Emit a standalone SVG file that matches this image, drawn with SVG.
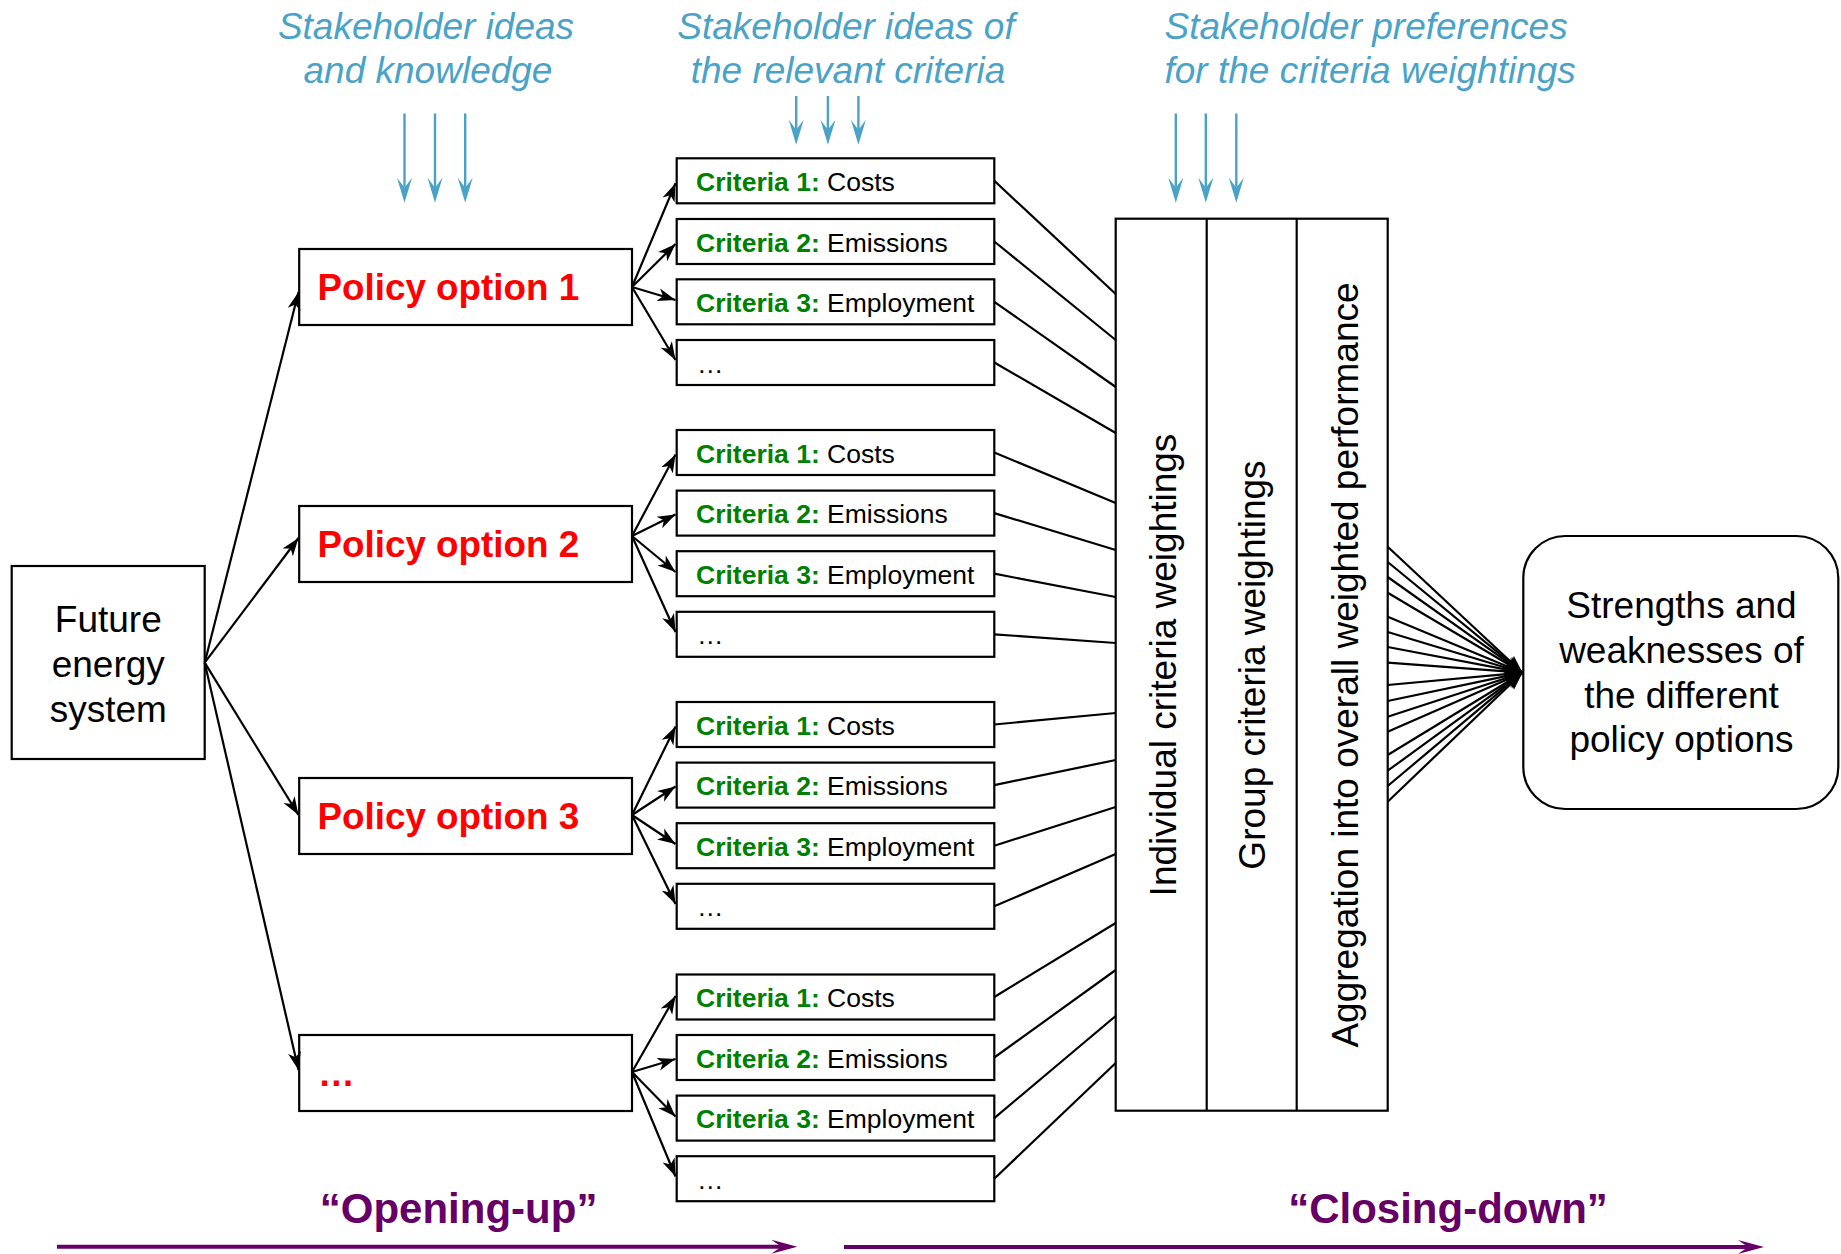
<svg xmlns="http://www.w3.org/2000/svg" width="1841" height="1254" viewBox="0 0 1841 1254">
<style>
text{font-family:"Liberation Sans",Arial,sans-serif}
.box{fill:#fff;stroke:#000;stroke-width:2.2}
.ln{stroke:#000;stroke-width:2.2;fill:none}
.arr{stroke:#000;stroke-width:2.2;fill:none;marker-end:url(#ab)}
.blue{stroke:#4AA3C7;stroke-width:2.4;fill:none;marker-end:url(#abl)}
.pur{stroke:#660066;stroke-width:4;fill:none;marker-end:url(#apu)}
.st{font-style:italic;font-size:37px;fill:#4AA3C7}
.cr{font-size:26.5px;fill:#000}
.g{font-weight:bold;fill:#008000}
.po{font-size:36.8px;font-weight:bold;fill:#FF0000}
.big{font-size:37px;fill:#000}
.ph{font-size:42px;font-weight:bold;fill:#660066}
</style>
<defs>
<marker id="ab" markerUnits="userSpaceOnUse" markerWidth="20" markerHeight="14" refX="18" refY="7" orient="auto"><path d="M0,0.5 L18,7 L0,13.5 L5,7 z" fill="#000"/></marker>
<marker id="abl" markerUnits="userSpaceOnUse" markerWidth="26" markerHeight="16" refX="10" refY="7.5" orient="auto"><path d="M0,0 L25,7.5 L0,15 L10,7.5 z" fill="#4AA3C7"/></marker>
<marker id="apu" markerUnits="userSpaceOnUse" markerWidth="27" markerHeight="15" refX="10" refY="7" orient="auto"><path d="M0,0 L26,7 L0,14 L10,7 z" fill="#660066"/></marker>
</defs>
<rect width="1841" height="1254" fill="#fff"/>

<g id="stakeholder-labels">
<text class="st" text-anchor="middle" x="426" y="38.5">Stakeholder ideas</text>
<text class="st" text-anchor="middle" x="428" y="82.5">and knowledge</text>
<text class="st" text-anchor="middle" x="846" y="38.5">Stakeholder ideas of</text>
<text class="st" text-anchor="middle" x="848" y="82.5">the relevant criteria</text>
<text class="st" x="1164.5" y="38.5">Stakeholder preferences</text>
<text class="st" x="1164.5" y="82.5">for the criteria weightings</text>
</g>

<g id="future"><rect class="box" x="11.7" y="566" width="193" height="193"/>
<text class="big" text-anchor="middle" x="108.3" y="631.7">Future</text>
<text class="big" text-anchor="middle" x="108.3" y="676.7">energy</text>
<text class="big" text-anchor="middle" x="108.3" y="721.7">system</text></g>

<g id="policy1"><rect class="box" x="299.2" y="249" width="332.8" height="76"/><text class="po" x="317.5" y="300">Policy option 1</text></g>
<g id="policy2"><rect class="box" x="299.2" y="506" width="332.8" height="76"/><text class="po" x="317.5" y="557">Policy option 2</text></g>
<g id="policy3"><rect class="box" x="299.2" y="778" width="332.8" height="76"/><text class="po" x="317.5" y="829">Policy option 3</text></g>
<g id="policy4"><rect class="box" x="299.2" y="1035" width="332.8" height="76"/><text class="po" x="318" y="1086">…</text></g>

<g id="criteria-g1">
<rect class="box" x="676.7" y="158.3" width="317.6" height="45"/><text class="cr" x="696" y="190.8"><tspan class="g">Criteria 1:</tspan> Costs</text>
<rect class="box" x="676.7" y="219" width="317.6" height="45"/><text class="cr" x="696" y="251.5"><tspan class="g">Criteria 2:</tspan> Emissions</text>
<rect class="box" x="676.7" y="279.3" width="317.6" height="45"/><text class="cr" x="696" y="311.8"><tspan class="g">Criteria 3:</tspan> Employment</text>
<rect class="box" x="676.7" y="340" width="317.6" height="45"/><text class="cr" x="697" y="372.5">…</text>
</g>
<g id="criteria-g2">
<rect class="box" x="676.7" y="430" width="317.6" height="45"/><text class="cr" x="696" y="462.5"><tspan class="g">Criteria 1:</tspan> Costs</text>
<rect class="box" x="676.7" y="490.6" width="317.6" height="45"/><text class="cr" x="696" y="523.1"><tspan class="g">Criteria 2:</tspan> Emissions</text>
<rect class="box" x="676.7" y="551.2" width="317.6" height="45"/><text class="cr" x="696" y="583.7"><tspan class="g">Criteria 3:</tspan> Employment</text>
<rect class="box" x="676.7" y="611.8" width="317.6" height="45"/><text class="cr" x="697" y="644.3">…</text>
</g>
<g id="criteria-g3">
<rect class="box" x="676.7" y="702" width="317.6" height="45"/><text class="cr" x="696" y="734.5"><tspan class="g">Criteria 1:</tspan> Costs</text>
<rect class="box" x="676.7" y="762.6" width="317.6" height="45"/><text class="cr" x="696" y="795.1"><tspan class="g">Criteria 2:</tspan> Emissions</text>
<rect class="box" x="676.7" y="823.2" width="317.6" height="45"/><text class="cr" x="696" y="855.7"><tspan class="g">Criteria 3:</tspan> Employment</text>
<rect class="box" x="676.7" y="883.8" width="317.6" height="45"/><text class="cr" x="697" y="916.3">…</text>
</g>
<g id="criteria-g4">
<rect class="box" x="676.7" y="974.5" width="317.6" height="45"/><text class="cr" x="696" y="1007"><tspan class="g">Criteria 1:</tspan> Costs</text>
<rect class="box" x="676.7" y="1035" width="317.6" height="45"/><text class="cr" x="696" y="1067.5"><tspan class="g">Criteria 2:</tspan> Emissions</text>
<rect class="box" x="676.7" y="1095.6" width="317.6" height="45"/><text class="cr" x="696" y="1128.1"><tspan class="g">Criteria 3:</tspan> Employment</text>
<rect class="box" x="676.7" y="1156.2" width="317.6" height="45"/><text class="cr" x="697" y="1188.7">…</text>
</g>

<g id="weighting-columns">
<rect class="box" x="1115.7" y="218.7" width="272" height="892"/>
<line class="ln" x1="1206.7" y1="218.7" x2="1206.7" y2="1110.7"/>
<line class="ln" x1="1296.7" y1="218.7" x2="1296.7" y2="1110.7"/>
<text class="big" text-anchor="middle" transform="translate(1175.5,665) rotate(-90)">Individual criteria weightings</text>
<text class="big" text-anchor="middle" transform="translate(1265,665) rotate(-90)">Group criteria weightings</text>
<text class="big" text-anchor="middle" transform="translate(1357.5,665) rotate(-90)">Aggregation into overall weighted performance</text>
</g>

<g id="result"><rect class="box" x="1523.3" y="536" width="315" height="273" rx="42" ry="42"/>
<text class="big" text-anchor="middle" x="1681.5" y="618.3">Strengths and</text>
<text class="big" text-anchor="middle" x="1681.5" y="663">weaknesses of</text>
<text class="big" text-anchor="middle" x="1681.5" y="707.7">the different</text>
<text class="big" text-anchor="middle" x="1681.5" y="752.4">policy options</text></g>

<g id="phase-labels">
<text class="ph" text-anchor="middle" x="458.6" y="1222.5">“Opening-up”</text>
<text class="ph" text-anchor="middle" x="1448" y="1222.5">“Closing-down”</text>
</g>

<g id="connectors">
<line class="blue" x1="404.5" y1="113.5" x2="404.5" y2="187.7"/>
<line class="blue" x1="435" y1="113.5" x2="435" y2="187.7"/>
<line class="blue" x1="465.2" y1="113.5" x2="465.2" y2="187.7"/>
<line class="blue" x1="796.2" y1="96" x2="796.2" y2="129.8"/>
<line class="blue" x1="827.9" y1="96" x2="827.9" y2="129.8"/>
<line class="blue" x1="858.4" y1="96" x2="858.4" y2="129.8"/>
<line class="blue" x1="1175.8" y1="113.5" x2="1175.8" y2="187.7"/>
<line class="blue" x1="1205.8" y1="113.5" x2="1205.8" y2="187.7"/>
<line class="blue" x1="1236.3" y1="113.5" x2="1236.3" y2="187.7"/>

<line class="arr" x1="204.7" y1="662.7" x2="298.5" y2="292"/>
<line class="arr" x1="204.7" y1="662.7" x2="298.5" y2="538"/>
<line class="arr" x1="204.7" y1="662.7" x2="298.5" y2="815"/>
<line class="arr" x1="204.7" y1="662.7" x2="298.5" y2="1070"/>

<line class="arr" x1="632" y1="287" x2="675.5" y2="183.3"/>
<line class="arr" x1="632" y1="287" x2="675.5" y2="244"/>
<line class="arr" x1="632" y1="287" x2="675.5" y2="300"/>
<line class="arr" x1="632" y1="287" x2="675.5" y2="360"/>
<line class="arr" x1="632" y1="536" x2="675.5" y2="454.5"/>
<line class="arr" x1="632" y1="536" x2="675.5" y2="514.5"/>
<line class="arr" x1="632" y1="536" x2="675.5" y2="572"/>
<line class="arr" x1="632" y1="536" x2="675.5" y2="632"/>
<line class="arr" x1="632" y1="815" x2="675.5" y2="726.5"/>
<line class="arr" x1="632" y1="815" x2="675.5" y2="786.5"/>
<line class="arr" x1="632" y1="815" x2="675.5" y2="844"/>
<line class="arr" x1="632" y1="815" x2="675.5" y2="904"/>
<line class="arr" x1="632" y1="1072" x2="675.5" y2="996"/>
<line class="arr" x1="632" y1="1072" x2="675.5" y2="1059"/>
<line class="arr" x1="632" y1="1072" x2="675.5" y2="1116.5"/>
<line class="arr" x1="632" y1="1072" x2="675.5" y2="1176.5"/>

<line class="ln" x1="994.3" y1="180.8" x2="1115.7" y2="294"/>
<line class="ln" x1="994.3" y1="241.5" x2="1115.7" y2="340"/>
<line class="ln" x1="994.3" y1="301.8" x2="1115.7" y2="387"/>
<line class="ln" x1="994.3" y1="362.5" x2="1115.7" y2="433"/>
<line class="ln" x1="994.3" y1="452.5" x2="1115.7" y2="503"/>
<line class="ln" x1="994.3" y1="513.1" x2="1115.7" y2="550"/>
<line class="ln" x1="994.3" y1="573.7" x2="1115.7" y2="597"/>
<line class="ln" x1="994.3" y1="634.3" x2="1115.7" y2="643"/>
<line class="ln" x1="994.3" y1="724.5" x2="1115.7" y2="713"/>
<line class="ln" x1="994.3" y1="785.1" x2="1115.7" y2="760"/>
<line class="ln" x1="994.3" y1="845.7" x2="1115.7" y2="807"/>
<line class="ln" x1="994.3" y1="906.3" x2="1115.7" y2="854"/>
<line class="ln" x1="994.3" y1="997" x2="1115.7" y2="923"/>
<line class="ln" x1="994.3" y1="1057.5" x2="1115.7" y2="970"/>
<line class="ln" x1="994.3" y1="1118.1" x2="1115.7" y2="1016"/>
<line class="ln" x1="994.3" y1="1178.7" x2="1115.7" y2="1063"/>

<line class="arr" x1="1387.7" y1="546.7" x2="1522.5" y2="672.7"/>
<line class="arr" x1="1387.7" y1="562" x2="1522.5" y2="672.7"/>
<line class="arr" x1="1387.7" y1="577" x2="1522.5" y2="672.7"/>
<line class="arr" x1="1387.7" y1="592.7" x2="1522.5" y2="672.7"/>
<line class="arr" x1="1387.7" y1="616.7" x2="1522.5" y2="672.7"/>
<line class="arr" x1="1387.7" y1="632" x2="1522.5" y2="672.7"/>
<line class="arr" x1="1387.7" y1="647" x2="1522.5" y2="672.7"/>
<line class="arr" x1="1387.7" y1="662.7" x2="1522.5" y2="672.7"/>
<line class="arr" x1="1387.7" y1="685" x2="1522.5" y2="672.7"/>
<line class="arr" x1="1387.7" y1="701" x2="1522.5" y2="672.7"/>
<line class="arr" x1="1387.7" y1="716.7" x2="1522.5" y2="672.7"/>
<line class="arr" x1="1387.7" y1="731.7" x2="1522.5" y2="672.7"/>
<line class="arr" x1="1387.7" y1="755" x2="1522.5" y2="672.7"/>
<line class="arr" x1="1387.7" y1="770.7" x2="1522.5" y2="672.7"/>
<line class="arr" x1="1387.7" y1="786" x2="1522.5" y2="672.7"/>
<line class="arr" x1="1387.7" y1="801.7" x2="1522.5" y2="672.7"/>

<line class="pur" x1="57" y1="1246.7" x2="781.3" y2="1246.7"/>
<line class="pur" x1="844" y1="1247" x2="1748" y2="1247"/>
</g>
</svg>
